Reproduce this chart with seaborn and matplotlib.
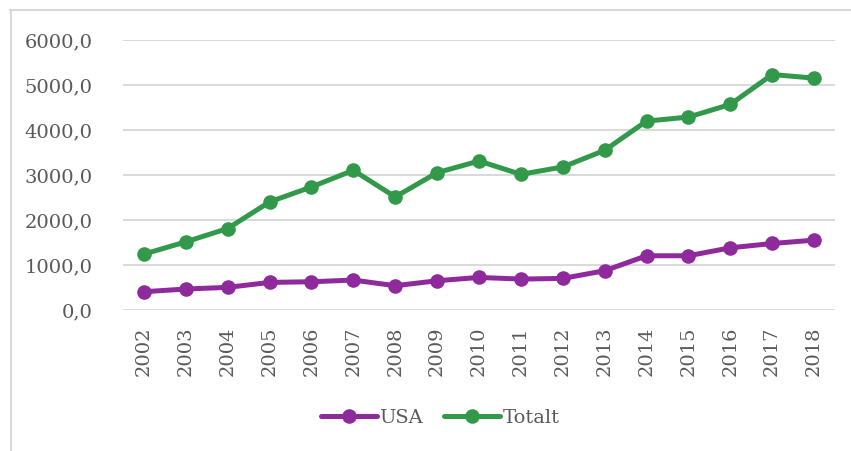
import matplotlib
matplotlib.use("Agg")
import matplotlib.pyplot as plt
import seaborn as sns
import pandas as pd
from matplotlib.lines import Line2D

years = ["2002", "2003", "2004", "2005", "2006", "2007", "2008", "2009", "2010",
         "2011", "2012", "2013", "2014", "2015", "2016", "2017", "2018"]
usa = [406, 466, 503, 613, 628, 665, 540, 650, 724, 687, 702, 872, 1205, 1205, 1382, 1478, 1552]
totalt = [1242, 1515, 1811, 2402, 2735, 3104, 2513, 3052, 3311, 3015, 3178, 3548, 4198, 4287, 4568, 5233, 5152]
series_names = ["USA", "Totalt"]
yticks = [0, 1000, 2000, 3000, 4000, 5000, 6000]
ytick_labels = ["0,0", "1000,0", "2000,0", "3000,0", "4000,0", "5000,0", "6000,0"]

colors = {"USA": "#8e2a9c", "Totalt": "#33994a"}

df = pd.DataFrame({
    "year": years * 2,
    "value": usa + totalt,
    "series": ["USA"] * len(years) + ["Totalt"] * len(years),
})

sns.set_theme(style="white")
plt.rcParams["font.family"] = ["DejaVu Serif"]

fig = plt.figure(figsize=(8.51, 4.51), dpi=100)
ax = fig.add_axes([123 / 851, 1 - 310 / 451, (835 - 123) / 851, (310 - 40) / 451])

sns.lineplot(data=df, x="year", y="value", hue="series", hue_order=series_names,
             palette=colors, marker="o", markersize=10.5, markeredgewidth=0,
             linewidth=3.6, sort=False, ax=ax, legend=False)

ax.set_xlim(-0.5, len(years) - 0.5)
ax.set_ylim(0, 6000)
ax.set_yticks(yticks)
ax.set_yticklabels(ytick_labels)
ax.set_xticks(range(len(years)))
ax.set_xticklabels(years, rotation=90)
ax.tick_params(axis="both", labelsize=14, labelcolor="#595959", length=0)
ax.tick_params(axis="y", pad=22)
ax.tick_params(axis="x", pad=12)
ax.grid(axis="y", color="#d9d9d9", linewidth=1.4)
ax.set_axisbelow(True)
for s in ax.spines.values():
    s.set_visible(False)
ax.set_xlabel("")
ax.set_ylabel("")

handles = [Line2D([], [], color=colors[n], marker="o", markersize=10.5, linewidth=3.6,
                  markeredgewidth=0) for n in series_names]
fig.legend(handles, series_names, loc="center", bbox_to_anchor=(0.517, 1 - 418 / 451),
           ncol=2, frameon=False, fontsize=14, labelcolor="#595959",
           handlelength=2.9, handletextpad=0.1, columnspacing=1.1)

# chart-area border (top and left visible)
fig.add_artist(Line2D([10 / 851, 1], [1 - 10 / 451, 1 - 10 / 451], color="#d9d9d9",
                      linewidth=1.5, transform=fig.transFigure))
fig.add_artist(Line2D([10.5 / 851, 10.5 / 851], [0, 1 - 10 / 451], color="#d9d9d9",
                      linewidth=1.5, transform=fig.transFigure))

fig.savefig("out.png", dpi=100)
